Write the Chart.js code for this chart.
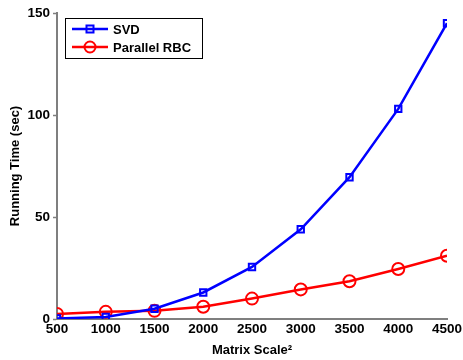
<!DOCTYPE html>
<html>
<head>
<meta charset="utf-8">
<script src="https://cdn.jsdelivr.net/npm/chart.js@4"></script>
<style>
  html, body { margin: 0; padding: 0; background: #fff; }
  #wrap { width: 463px; height: 360px; }
</style>
</head>
<body>
<div id="wrap"><canvas id="chart" width="463" height="360"></canvas></div>
<script>
// Data
const scales = [500, 1000, 1500, 2000, 2500, 3000, 3500, 4000, 4500];
const svdTime = [0.3, 1, 5, 13, 25.5, 44, 69.5, 103, 145];
const rbcTime = [2.5, 3.5, 4, 6, 10, 14.5, 18.5, 24.5, 31];
const yTicks = [0, 50, 100, 150];

const FONT = 'Liberation Sans, Arial, sans-serif';
const AXIS = '#7f7f7f';

// Legend drawn inside the plot area, MATLAB style
const boxLegend = {
  id: 'boxLegend',
  afterDraw(chart) {
    const c = chart.ctx;
    const x0 = 65, y0 = 18, w = 137, h = 40;
    c.save();
    c.fillStyle = '#fff';
    c.fillRect(x0, y0, w, h);
    c.strokeStyle = '#000';
    c.lineWidth = 1;
    c.strokeRect(x0 + 0.5, y0 + 0.5, w, h);
    chart.data.datasets.forEach((ds, i) => {
      const y = y0 + 11 + i * 18;
      c.strokeStyle = ds.borderColor;
      c.lineWidth = 2.5;
      c.beginPath();
      c.moveTo(x0 + 7, y);
      c.lineTo(x0 + 43, y);
      c.stroke();
      c.lineWidth = 2;
      if (ds.pointStyle === 'rect') {
        c.strokeRect(x0 + 25 - 3.5, y - 3.5, 7, 7);
      } else {
        c.beginPath();
        c.arc(x0 + 25, y, 5.5, 0, Math.PI * 2);
        c.stroke();
      }
      c.fillStyle = '#000';
      c.font = 'bold 13px ' + FONT;
      c.textBaseline = 'middle';
      c.fillText(ds.label, x0 + 48, y + 1);
    });
    c.restore();
  }
};

new Chart(document.getElementById('chart'), {
  type: 'line',
  data: {
    datasets: [{
      label: 'SVD',
      data: scales.map((s, i) => ({ x: s, y: svdTime[i] })),
      borderColor: '#0000ff',
      backgroundColor: 'transparent',
      borderWidth: 2.5,
      pointStyle: 'rect',
      pointRadius: 4.5,
      pointBorderWidth: 2,
      tension: 0
    }, {
      label: 'Parallel RBC',
      data: scales.map((s, i) => ({ x: s, y: rbcTime[i] })),
      borderColor: '#ff0000',
      backgroundColor: 'transparent',
      borderWidth: 2.5,
      pointStyle: 'circle',
      pointRadius: 6,
      pointBorderWidth: 2,
      tension: 0
    }]
  },
  options: {
    responsive: false,
    animation: false,
    layout: { padding: { top: 13, right: 16, left: 0, bottom: 0 } },
    plugins: { legend: { display: false }, tooltip: { enabled: false } },
    scales: {
      x: {
        type: 'linear',
        min: 500, max: 4500,
        afterFit: s => { s.height = 41; },
        grid: { drawOnChartArea: false, color: 'transparent', tickColor: 'transparent', tickLength: 2 },
        border: { color: AXIS, width: 2 },
        ticks: {
          stepSize: 500,
          color: '#000',
          padding: 0,
          maxRotation: 0,
          callback: v => String(v),
          font: { family: FONT, size: 13.5, weight: 'bold' }
        },
        title: {
          display: true,
          text: 'Matrix Scale\u00B2',
          color: '#000',
          padding: { top: 0, bottom: 2 },
          font: { family: FONT, size: 13, weight: 'bold' }
        }
      },
      y: {
        min: 0, max: 150,
        afterFit: s => { s.width = 57; },
        afterBuildTicks: s => { s.ticks = yTicks.map(v => ({ value: v })); },
        grid: { drawOnChartArea: false, color: 'transparent', tickColor: AXIS, tickLength: 4, tickWidth: 1.5 },
        border: { color: AXIS, width: 2 },
        ticks: {
          color: '#000',
          padding: 3,
          font: { family: FONT, size: 13.5, weight: 'bold' }
        },
        title: {
          display: true,
          text: 'Running Time (sec)',
          color: '#000',
          padding: { top: 8, bottom: 0 },
          font: { family: FONT, size: 13, weight: 'bold' }
        }
      }
    }
  },
  plugins: [boxLegend]
});
</script>
</body>
</html>
